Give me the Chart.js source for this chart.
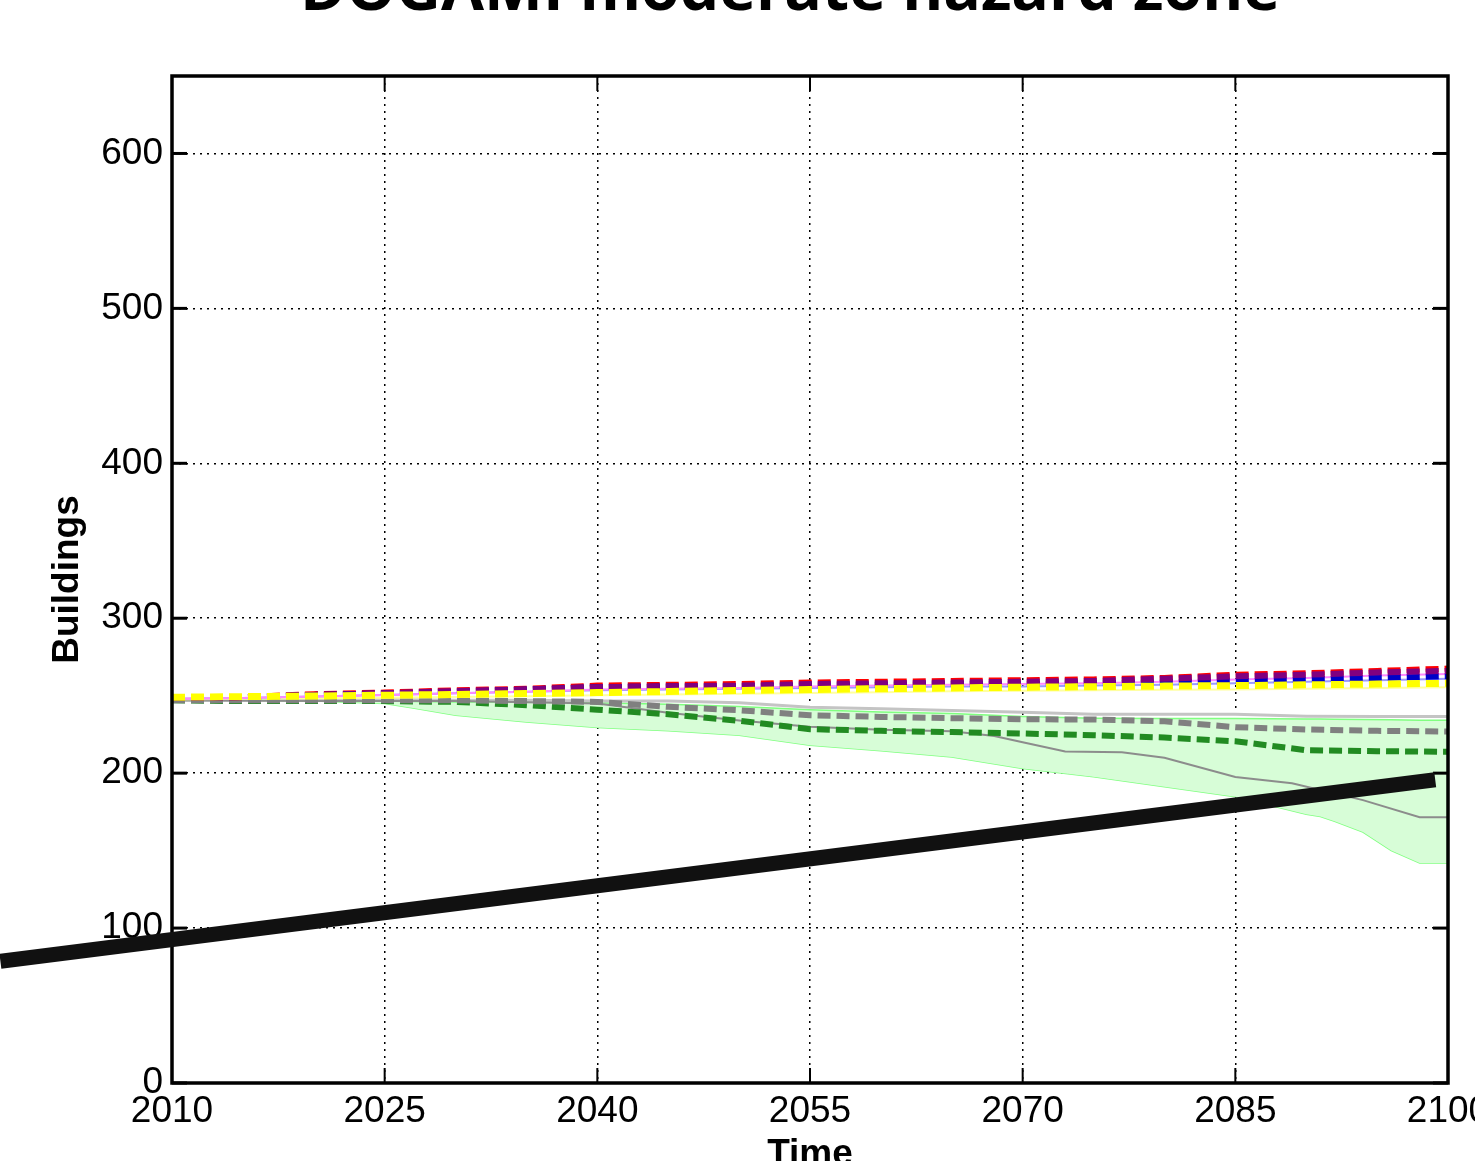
<!DOCTYPE html>
<html><head><meta charset="utf-8">
<script src="https://cdn.jsdelivr.net/npm/chart.js@4"></script>
<style>html,body{margin:0;padding:0;background:#fff;overflow:hidden}canvas{display:block}</style>
</head><body>
<canvas id="c" width="1475" height="1161" style="width:1475px;height:1161px"></canvas>
<script>
// ---- text ----
const titleText = "DOGAMI moderate hazard zone";
const xTitle = "Time";
const yTitle = "Buildings";
// ---- ticks ----
const xTicks = [2010, 2025, 2040, 2055, 2070, 2085, 2100];
const yTicks = [0, 100, 200, 300, 400, 500, 600];
// ---- series (every 5 years) ----
const years = [2010,2015,2020,2025,2030,2035,2040,2045,2050,2055,2060,2065,2070,2075,2080,2085,2090,2095,2100];
const redDashed    = [248.5,249,251,252,253.5,254.5,256.5,257,257.5,258.5,259,259.5,260,260.5,261.5,263.5,264.5,266,267.5];
const purpleDashed = [248.5,249,250.5,251.5,253,254,255.5,256,256.5,257.5,258,258.5,259,259.5,261,262.5,263.5,265,266];
const blueDashed   = [248.5,249,250.5,251.5,252.5,254,255.5,256,256,256.5,257,257.5,257.5,258,258.5,259.5,260.5,261.5,262.5];
const pinkThin     = [248,248.5,249.5,250.5,251.5,252.5,254,254.5,255,256,256.5,257,257.5,258,259,260.5,261.5,263,264];
const lavenderThin = [248,248.5,249.5,250.5,251.5,252.5,253.5,254,254.5,255,255.5,256,256,256.5,257,258,259,260,261];
const yellowDashed = [249,249.4,249.8,250.3,250.8,251.4,252,252.7,253.3,254,254.5,255,255.5,255.8,256.2,256.5,257,257.5,258];
const paleYellow   = [247.5,248,248.3,248.7,249.2,249.7,250.3,250.8,251.3,251.8,252.3,252.8,253.2,253.5,253.8,254,254.5,255,255.5];
const grayDashed   = [247,247,247,247,247,246.5,246,242.8,240.6,237.4,236.3,235.5,234.8,234.6,233.5,229.7,228.2,227.3,226.9];
const greenDashed  = [247,246.5,246.5,246.5,246,243.9,241,238,233.8,228.4,227.3,226.5,225.6,224.5,223,220.6,214.8,214.2,213.8];
const silverLine   = [247,247,247.5,247.5,247,247,246.5,246.5,245.5,242.5,241.5,240.5,239.3,238,238,238,236.8,236.5,236.5];
// ---- irregular series ----
const grayThinYears = [2010,2020,2030,2040,2045,2050,2055,2060,2065,2068,2070,2073,2077,2080,2085,2089,2094,2098,2100];
const grayThin      = [247,246.5,246.5,245,239,234,230,228,227,224,220,214,213.5,210,197.5,193.5,182.6,171.6,171.6];
const bandYears = [2010,2015,2020,2025,2027,2030,2035,2040,2045,2050,2055,2060,2065,2070,2075,2080,2085,2090,2091,2092,2094,2096,2098,2100];
const bandLower = [247,247,246.5,245,242,237.4,233,229.5,227.3,224.5,218,214.4,210.5,203,197.6,191.2,184.7,173.5,172,169,162,150,142,142];
const bandUpper = [247,247,247,246.5,246.3,246,246,245.5,244.5,243,241,239.5,238.5,236.5,235.5,235.3,235.3,235,235,234.8,234.6,234.4,234.2,234.2];
// ---- hand-drawn black stroke (annotation) ----
const strokeX = [1997.9, 2099.1];
const strokeY = [78.6, 195.7];

const pts = (xs, ys) => xs.map((x, i) => ({x, y: ys[i]}));
const DASH = [13, 6];
const line = (data, color, width, dash, order, extra) => Object.assign({
  data, borderColor: color, borderWidth: width, borderDash: dash || [], pointRadius: 0,
  fill: false, tension: 0, order, borderCapStyle: 'butt'
}, extra || {});

const datasets = [
  line(pts(strokeX, strokeY), '#111111', 15, null, 0, {clip: false}),          // 0
  line(pts(years, yellowDashed), '#ffff00', 7, DASH, 1),                         // 1
  line(pts(years, purpleDashed), '#800080', 6, DASH, 2),                         // 2
  line(pts(years, blueDashed), '#0000c8', 6, DASH, 3),                           // 3
  line(pts(years, redDashed), '#ff0000', 6, DASH, 4),                            // 4
  line(pts(years, pinkThin), '#ff88ff', 2, null, 5),                             // 5
  line(pts(years, lavenderThin), '#9999ff', 2, null, 6),                         // 6
  line(pts(years, paleYellow), '#ffffa0', 2, null, 7),                           // 7
  line(pts(years, grayDashed), '#808080', 6, DASH, 8),                           // 8
  line(pts(years, greenDashed), '#228b22', 6, DASH, 9),                          // 9
  line(pts(grayThinYears, grayThin), '#8c8c8c', 2, null, 10),                    // 10
  line(pts(years, silverLine), '#c4c4c4', 3, null, 11),                          // 11
  line(pts(bandYears, bandUpper), '#80ff80', 1.5, null, 12, {fill: {target: 13}, backgroundColor: '#d7fdd7'}), // 12
  line(pts(bandYears, bandLower), '#80ff80', 1.5, null, 13)                      // 13
];

const frame = {
  id: 'frame',
  beforeDatasetDraw(chart, args) {
    if (args.index !== 0) return;
    const {ctx, chartArea: a, scales} = chart;
    ctx.save();
    ctx.strokeStyle = '#000';
    ctx.lineWidth = 3.5;
    ctx.strokeRect(a.left, a.top, a.right - a.left, a.bottom - a.top);
    ctx.lineWidth = 3;
    yTicks.forEach(v => {
      const y = scales.y.getPixelForValue(v);
      ctx.beginPath(); ctx.moveTo(a.left, y); ctx.lineTo(a.left + 15, y); ctx.stroke();
      ctx.beginPath(); ctx.moveTo(a.right, y); ctx.lineTo(a.right - 15, y); ctx.stroke();
    });
    ctx.lineWidth = 2;
    xTicks.forEach(v => {
      const x = scales.x.getPixelForValue(v);
      ctx.beginPath(); ctx.moveTo(x, a.bottom); ctx.lineTo(x, a.bottom - 15); ctx.stroke();
      ctx.beginPath(); ctx.moveTo(x, a.top); ctx.lineTo(x, a.top + 15); ctx.stroke();
    });
    ctx.restore();
  },
  afterDraw(chart) {
    const ctx = chart.ctx;
    ctx.save();
    ctx.font = 'bold 60px "Open Sans", sans-serif';
    ctx.fillStyle = '#000';
    ctx.textAlign = 'center';
    ctx.textBaseline = 'alphabetic';
    const w = ctx.measureText(titleText).width;
    ctx.translate(790, 10);
    ctx.scale(980 / w, 1);
    ctx.fillText(titleText, 0, 0);
    ctx.restore();
  }
};

const tickFont = {family: '"Liberation Sans", Arial, sans-serif', size: 37};
const titleFont = {family: '"Liberation Sans", Arial, sans-serif', size: 37, weight: 'bold'};

new Chart(document.getElementById('c'), {
  type: 'line',
  data: {datasets},
  options: {
    responsive: false, animation: false, devicePixelRatio: 1,
    layout: {padding: {top: 76, right: 27, left: 0, bottom: 0}},
    plugins: {legend: {display: false}, tooltip: {enabled: false}, title: {display: false}},
    scales: {
      x: {
        type: 'linear', min: 2010, max: 2100,
        afterBuildTicks: s => { s.ticks = xTicks.map(v => ({value: v})); },
        afterFit: s => { s.height = 78; s.paddingLeft = 0; s.paddingRight = 0; },
        ticks: {font: tickFont, color: '#000', padding: 7, maxRotation: 0, autoSkip: false, callback: v => String(v)},
        grid: {color: '#000', lineWidth: 1.5, drawTicks: false},
        border: {display: false, dash: [2, 5]},
        title: {display: true, text: xTitle, font: titleFont, color: '#000', padding: {top: 0, bottom: -16}}
      },
      y: {
        type: 'linear', min: 0, max: 650,
        afterBuildTicks: s => { s.ticks = yTicks.map(v => ({value: v})); },
        afterFit: s => { s.width = 172; s.paddingTop = 0; s.paddingBottom = 0; },
        ticks: {font: tickFont, color: '#000', padding: 9, callback: v => String(v)},
        grid: {color: '#000', lineWidth: 1.5, drawTicks: false},
        border: {display: false, dash: [2, 5]},
        title: {display: true, text: yTitle, font: titleFont, color: '#000', padding: {top: 46, bottom: 0}}
      }
    }
  },
  plugins: [frame]
});
</script>
</body></html>
